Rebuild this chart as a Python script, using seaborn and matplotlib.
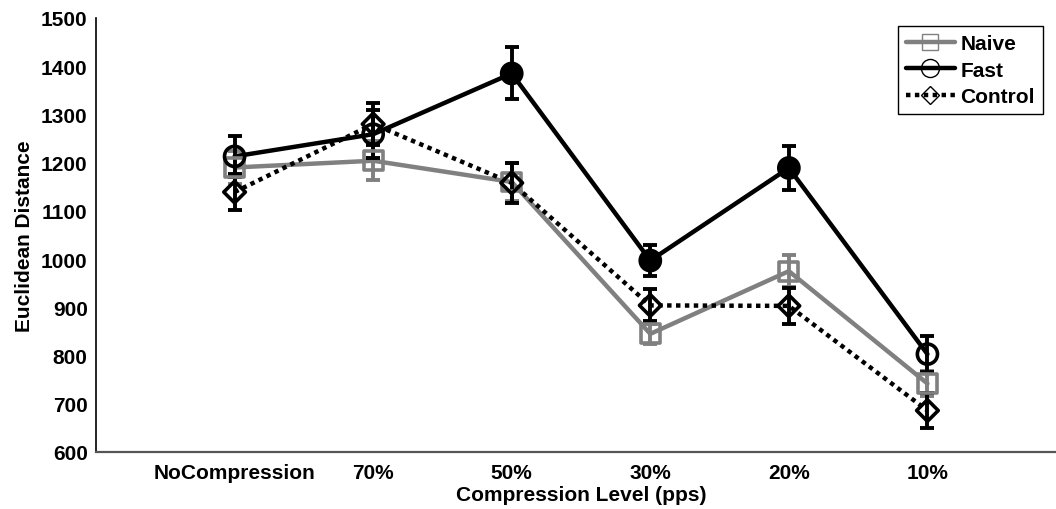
import numpy as np
import pandas as pd
import matplotlib
matplotlib.use("Agg")
import matplotlib.pyplot as plt
from matplotlib.lines import Line2D
import seaborn as sns

# Compression conditions on the x axis
categories = ["NoCompression", "70%", "50%", "30%", "20%", "10%"]

# Mean Euclidean distance per group and its error
naive = [1190, 1204, 1160, 845, 975, 742]
naive_err = [35, 40, 40, 20, 33, 25]

fast = [1213, 1259, 1385, 997, 1189, 803]
fast_err = [43, 50, 54, 33, 46, 37]
fast_filled = [False, False, True, True, True, False]

control = [1139, 1280, 1158, 904, 903, 686]
control_err = [38, 43, 42, 33, 38, 36]

y_ticks = [600, 700, 800, 900, 1000, 1100, 1200, 1300, 1400, 1500]

sns.set_theme(style="white")
plt.rcParams["font.family"] = ["Liberation Sans", "DejaVu Sans"]
plt.rcParams["font.weight"] = "bold"

GRAY = "#808080"
BLACK = "#000000"
FS = 15

fig = plt.figure(figsize=(10.56, 5.10), dpi=100)
ax = fig.add_axes([96 / 1056, 57 / 510, 970 / 1056, 434 / 510])

pos = np.arange(1, len(categories) + 1)
df = pd.DataFrame({
    "pos": np.tile(pos, 3),
    "value": naive + fast + control,
    "err": naive_err + fast_err + control_err,
    "group": ["Naive"] * 6 + ["Fast"] * 6 + ["Control"] * 6,
})

series = [
    ("Naive", GRAY, "-", "s", 13.5, [False] * 6),
    ("Fast", BLACK, "-", "o", 14.5, fast_filled),
    ("Control", BLACK, (0, (1, 1)), "D", 11, [False] * 6),
]

for name, color, ls, marker, ms, filled in series:
    sub = df[df["group"] == name]
    sns.lineplot(data=sub, x="pos", y="value", ax=ax, color=color,
                 linestyle=ls, linewidth=3.2, legend=False,
                 dash_capstyle="butt", zorder=2)
    ax.errorbar(sub["pos"], sub["value"], yerr=sub["err"], fmt="none",
                ecolor=color, elinewidth=2.8, capsize=5, capthick=2.8,
                zorder=3)
    faces = [color if f else "none" for f in filled]
    ax.scatter(sub["pos"], sub["value"], s=ms ** 2, marker=marker,
               facecolors=faces, edgecolors=color, linewidths=2.6,
               zorder=4)

ax.set_xlim(0, 7)
ax.set_ylim(600, 1500)
ax.set_xticks(pos)
ax.set_xticklabels(categories, fontsize=FS, fontweight="bold", color="black")
ax.set_yticks(y_ticks)
ax.set_yticklabels([str(t) for t in y_ticks], fontsize=FS, fontweight="bold",
                   color="black")
ax.tick_params(axis="both", direction="in", length=4, width=1,
               colors="#333333", labelcolor="black", pad=6)
ax.tick_params(axis="x", pad=8)

ax.set_xlabel("Compression Level (pps)", fontsize=FS, fontweight="bold",
              color="black", labelpad=2)
ax.set_ylabel("Euclidean Distance", fontsize=FS, fontweight="bold",
              color="black", labelpad=5)

for side in ["top", "right"]:
    ax.spines[side].set_visible(False)
ax.spines["left"].set_color(BLACK)
ax.spines["left"].set_linewidth(1.2)
ax.spines["bottom"].set_color("#555555")
ax.spines["bottom"].set_linewidth(1.6)

handles = [
    Line2D([], [], color=GRAY, lw=3.2, marker="s", ms=12,
           markerfacecolor="none", markeredgecolor=GRAY, markeredgewidth=1),
    Line2D([], [], color=BLACK, lw=3.2, marker="o", ms=13,
           markerfacecolor="none", markeredgecolor=BLACK, markeredgewidth=1),
    Line2D([], [], color=BLACK, lw=3.2, linestyle=(0, (1, 1)), marker="D",
           ms=9, markerfacecolor="none", markeredgecolor=BLACK,
           markeredgewidth=1, dash_capstyle="butt"),
]
leg = fig.legend(handles, ["Naive", "Fast", "Control"],
                 loc="upper right", bbox_to_anchor=(1043 / 1056, 1 - 27 / 510),
                 prop={"size": FS, "weight": "bold"}, frameon=True,
                 fancybox=False, edgecolor=BLACK, framealpha=1,
                 handlelength=2.35, handletextpad=0.25, borderpad=0.4,
                 labelspacing=0.35, borderaxespad=0)
leg.get_frame().set_linewidth(1.0)
for txt in leg.get_texts():
    txt.set_color("black")

fig.savefig("out.png", dpi=100, facecolor="white")
